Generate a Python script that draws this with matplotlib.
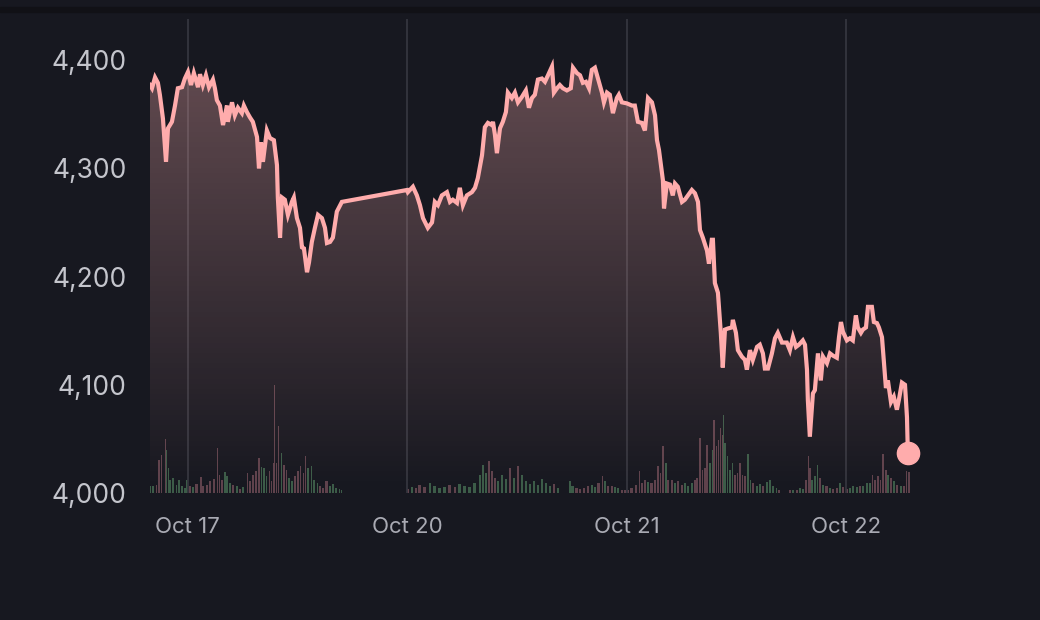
import numpy as np
import matplotlib
matplotlib.use("Agg")
import matplotlib.pyplot as plt
from matplotlib.patches import Rectangle
from matplotlib.ticker import FuncFormatter

# trading-day axis: 0 = Oct 17, 1 = Oct 20, 2 = Oct 21, 3 = Oct 22
day_ticks = [0, 1, 2, 3]
day_labels = ["Oct 17", "Oct 20", "Oct 21", "Oct 22"]
price_ticks = [4000, 4100, 4200, 4300, 4400]

oct17_t = [-0.173, -0.164, -0.150, -0.137, -0.128, -0.114, -0.100, -0.091, -0.073, -0.059,
           -0.046, -0.027, -0.014, 0.000, 0.014, 0.027, 0.046, 0.055, 0.068, 0.082,
           0.096, 0.114, 0.123, 0.132, 0.146, 0.160, 0.178, 0.182, 0.201, 0.214,
           0.228, 0.246, 0.255, 0.269, 0.283, 0.296, 0.315, 0.324, 0.333, 0.342,
           0.360, 0.374, 0.392, 0.406, 0.410, 0.420, 0.429, 0.442, 0.456, 0.474,
           0.483, 0.497, 0.511, 0.520, 0.529, 0.543, 0.552, 0.565, 0.579, 0.593,
           0.611, 0.625, 0.634, 0.648, 0.661, 0.679, 0.702]
oct17_p = [4377, 4374, 4384, 4379, 4368, 4346, 4306, 4337, 4343, 4358,
           4374, 4375, 4383, 4389, 4377, 4388, 4375, 4387, 4377, 4386,
           4375, 4382, 4374, 4363, 4358, 4340, 4358, 4343, 4361, 4349,
           4356, 4351, 4358, 4352, 4347, 4343, 4329, 4300, 4324, 4306,
           4335, 4328, 4326, 4303, 4273, 4236, 4273, 4271, 4257, 4269,
           4273, 4254, 4245, 4227, 4226, 4204, 4213, 4232, 4245, 4257,
           4254, 4245, 4231, 4232, 4236, 4260, 4269]

oct20_t = [0.999, 1.003, 1.026, 1.044, 1.058, 1.072, 1.094, 1.113, 1.126, 1.140,
           1.158, 1.181, 1.195, 1.208, 1.227, 1.240, 1.254, 1.272, 1.295, 1.309,
           1.322, 1.341, 1.354, 1.368, 1.386, 1.391, 1.400, 1.409, 1.423, 1.436,
           1.450, 1.459, 1.477, 1.491, 1.505, 1.523, 1.541, 1.555, 1.569, 1.582,
           1.596, 1.614, 1.628, 1.642, 1.660, 1.669, 1.683, 1.696, 1.710, 1.728,
           1.746, 1.756, 1.774, 1.788, 1.801, 1.815, 1.829, 1.842, 1.856, 1.870,
           1.888, 1.897, 1.911, 1.924, 1.938, 1.956, 1.965, 1.979]
oct20_p = [4280, 4278, 4283, 4275, 4266, 4254, 4245, 4250, 4269, 4266,
           4275, 4278, 4269, 4271, 4268, 4282, 4266, 4275, 4278, 4282,
           4291, 4312, 4338, 4342, 4340, 4343, 4331, 4314, 4337, 4343,
           4352, 4370, 4365, 4370, 4361, 4366, 4372, 4356, 4365, 4368,
           4382, 4383, 4380, 4386, 4394, 4370, 4374, 4377, 4374, 4372,
           4374, 4393, 4388, 4386, 4379, 4380, 4374, 4391, 4393, 4383,
           4370, 4361, 4370, 4368, 4351, 4365, 4368, 4361]

oct21_t = [2.002, 2.025, 2.038, 2.052, 2.070, 2.084, 2.098, 2.116, 2.130, 2.139,
           2.148, 2.166, 2.171, 2.184, 2.198, 2.211, 2.221, 2.234, 2.253, 2.266,
           2.280, 2.298, 2.312, 2.326, 2.335, 2.348, 2.367, 2.376, 2.389, 2.394,
           2.403, 2.417, 2.430, 2.439, 2.449, 2.462, 2.481, 2.485, 2.499, 2.508,
           2.526, 2.540, 2.549, 2.563, 2.576, 2.595, 2.608, 2.622, 2.631, 2.645,
           2.663, 2.677, 2.690, 2.709, 2.731, 2.745, 2.759, 2.773, 2.786, 2.804,
           2.814, 2.823, 2.827, 2.836, 2.850, 2.859, 2.873, 2.886, 2.896, 2.914,
           2.928, 2.941, 2.959, 2.969, 2.978, 2.987]
oct21_p = [4360, 4358, 4358, 4343, 4342, 4335, 4365, 4361, 4349, 4326,
           4317, 4289, 4263, 4286, 4285, 4275, 4286, 4283, 4269, 4271,
           4275, 4280, 4277, 4269, 4243, 4236, 4224, 4212, 4234, 4234,
           4194, 4185, 4148, 4116, 4151, 4152, 4153, 4160, 4148, 4132,
           4126, 4123, 4114, 4132, 4123, 4135, 4137, 4129, 4115, 4115,
           4129, 4143, 4148, 4139, 4139, 4132, 4144, 4135, 4137, 4141,
           4137, 4114, 4086, 4052, 4092, 4095, 4129, 4104, 4126, 4120,
           4129, 4127, 4125, 4144, 4158, 4149]

oct22_t = [3.005, 3.019, 3.032, 3.046, 3.055, 3.069, 3.078, 3.092, 3.101, 3.119,
           3.128, 3.142, 3.151, 3.165, 3.174, 3.183, 3.192, 3.206, 3.219, 3.233,
           3.242, 3.256, 3.270, 3.279, 3.283]
oct22_p = [4141, 4143, 4141, 4164, 4153, 4148, 4151, 4153, 4172, 4172,
           4158, 4157, 4153, 4144, 4121, 4097, 4104, 4084, 4089, 4077,
           4086, 4102, 4100, 4070, 4037]

# volume per session (arbitrary units)
vol1_t = [-0.173, -0.158, -0.143, -0.131, -0.120, -0.109, -0.102, -0.097, -0.090, -0.082,
          -0.067, -0.052, -0.040, -0.029, -0.014, -0.003, 0.009, 0.024, 0.040, 0.059,
          0.070, 0.085, 0.100, 0.119, 0.134, 0.143, 0.154, 0.169, 0.179, 0.192,
          0.207, 0.222, 0.237, 0.252, 0.271, 0.283, 0.295, 0.310, 0.325, 0.336,
          0.347, 0.359, 0.371, 0.382, 0.389, 0.395, 0.404, 0.413, 0.420, 0.427,
          0.438, 0.450, 0.461, 0.473, 0.488, 0.500, 0.514, 0.526, 0.537, 0.549,
          0.564, 0.575, 0.590, 0.602, 0.617, 0.632, 0.648, 0.660, 0.675, 0.690, 0.701]
vol1_v = [7, 7, 8, 33, 38, 18, 54, 43, 25, 13,
          15, 8, 13, 7, 5, 13, 7, 6, 9, 16,
          7, 8, 12, 14, 45, 18, 13, 21, 17, 10,
          8, 7, 4, 6, 20, 12, 18, 22, 35, 26,
          25, 17, 22, 12, 30, 108, 30, 67, 50, 40,
          28, 23, 15, 12, 17, 22, 27, 20, 37, 25,
          27, 13, 10, 7, 5, 12, 7, 9, 5, 4, 3]

vol2_t = [1.003, 1.021, 1.040, 1.058, 1.081, 1.104, 1.126, 1.149, 1.172, 1.195,
          1.218, 1.240, 1.263, 1.286, 1.309, 1.332, 1.345, 1.359, 1.373, 1.386,
          1.400, 1.414, 1.432, 1.450, 1.468, 1.487, 1.505, 1.523, 1.541, 1.560,
          1.578, 1.596, 1.614, 1.632, 1.651, 1.669, 1.687]
vol2_v = [4, 6, 5, 8, 6, 10, 7, 5, 6, 8,
          6, 9, 7, 6, 10, 18, 28, 20, 32, 22,
          15, 12, 18, 14, 25, 15, 27, 18, 12, 9,
          12, 8, 14, 10, 7, 9, 5]

vol3_t = [1.742, 1.754, 1.772, 1.788, 1.806, 1.825, 1.841, 1.856, 1.871, 1.891,
          1.902, 1.917, 1.932, 1.947, 1.962, 1.978, 1.993, 2.008, 2.023, 2.043,
          2.058, 2.069, 2.084, 2.099, 2.114, 2.130, 2.142, 2.155, 2.167, 2.180,
          2.190, 2.206, 2.221, 2.236, 2.251, 2.266, 2.281, 2.297, 2.312, 2.322,
          2.335, 2.347, 2.357, 2.368, 2.380, 2.393, 2.400, 2.411, 2.421, 2.430,
          2.436, 2.443, 2.450, 2.461, 2.472, 2.484, 2.494, 2.507, 2.517, 2.529,
          2.540, 2.555, 2.566, 2.578, 2.593, 2.608, 2.623, 2.639, 2.654, 2.669,
          2.684, 2.696]
vol3_v = [12, 7, 5, 4, 5, 7, 8, 6, 10, 17,
          12, 7, 7, 6, 5, 3, 3, 3, 5, 8,
          22, 10, 13, 11, 10, 13, 27, 20, 47, 30,
          13, 13, 10, 12, 8, 10, 7, 10, 13, 15,
          55, 23, 25, 48, 30, 43, 73, 47, 53, 65,
          58, 78, 50, 37, 23, 30, 18, 20, 30, 18,
          17, 39, 13, 10, 7, 9, 7, 11, 13, 7,
          5, 3]

vol4_t = [2.745, 2.760, 2.776, 2.791, 2.806, 2.818, 2.829, 2.836, 2.847, 2.859,
          2.871, 2.882, 2.897, 2.912, 2.928, 2.943, 2.958, 2.973, 2.988, 3.004,
          3.019, 3.034, 3.049, 3.064, 3.079, 3.095, 3.110, 3.122, 3.132, 3.147,
          3.159, 3.170, 3.183, 3.193, 3.206, 3.219, 3.234, 3.250, 3.265, 3.278, 3.288]
vol4_v = [3, 3, 3, 5, 4, 13, 37, 25, 13, 17,
          28, 15, 8, 7, 5, 4, 5, 10, 6, 4,
          5, 7, 6, 7, 7, 10, 10, 18, 13, 17,
          13, 39, 23, 18, 15, 12, 8, 7, 7, 22, 21]

BG = "#171820"
LINE = "#ffacac"
GRID = "#34353e"
UP = "#4c7a5a"
DOWN = "#7e5460"

plt.rcParams["font.family"] = ["Inter", "DejaVu Sans"]

t = np.array(oct17_t + oct20_t + oct21_t + oct22_t)
p = np.array(oct17_p + oct20_p + oct21_p + oct22_p)

fig = plt.figure(figsize=(10.4, 6.2), dpi=100, facecolor=BG)
fig.patches.append(Rectangle((0, 608 / 620), 1, 5 / 620, transform=fig.transFigure,
                             color="#111116", zorder=0))

ax = fig.add_axes([150 / 1040, 127 / 620, 780 / 1040, 474 / 620])
ax.set_facecolor(BG)
xmin, xmax = -0.173, 3.384
ymin, ymax = 4000, 4438
ax.set_xlim(xmin, xmax)
ax.set_ylim(ymin, ymax)

# volume on its own scale, behind the price
axv = ax.twinx()
axv.set_ylim(0, 474)
axv.set_axis_off()
for vt, vv in [(vol1_t, vol1_v), (vol2_t, vol2_v), (vol3_t, vol3_v), (vol4_t, vol4_v)]:
    vt = np.array(vt)
    vv = np.array(vv)
    gaps = np.diff(vt)
    w = np.append(gaps, gaps[-1]) * 0.6
    prev = np.interp(vt - 0.006, t, p)
    now = np.interp(vt, t, p)
    cols = [UP if a >= b else DOWN for a, b in zip(now, prev)]
    axv.bar(vt, vv, width=w, color=cols, alpha=0.7, align="center", linewidth=0)

ax.set_zorder(axv.get_zorder() + 1)
ax.patch.set_visible(False)
axv.patch.set_facecolor(BG)

for d in day_ticks:
    ax.axvline(d, color=GRID, lw=1.3, zorder=1)

# gradient area under the line
poly = ax.fill_between(t, p, ymin, color="none", lw=0)
grad = np.zeros((200, 2, 4))
grad[:, :, 0] = 1.0
grad[:, :, 1] = 0.70
grad[:, :, 2] = 0.70
grad[:, :, 3] = np.linspace(0.36, 0.0, 200)[:, None]
img = ax.imshow(grad, extent=(xmin, xmax, ymin, ymax), aspect="auto", origin="upper",
                zorder=2)
img.set_clip_path(poly.get_paths()[0], transform=ax.transData)

ax.plot(t, p, color=LINE, lw=3.0, zorder=3, solid_joinstyle="miter")
ax.plot(t[-1], p[-1], "o", ms=16, color=LINE, zorder=4, clip_on=False)

ax.set_xticks(day_ticks)
ax.set_xticklabels(day_labels)
ax.set_yticks(price_ticks)
ax.yaxis.set_major_formatter(FuncFormatter(lambda v, _: f"{v:,.0f}"))
ax.tick_params(axis="x", length=0, pad=17, labelsize=16, labelcolor="#a9aab3")
ax.tick_params(axis="y", length=0, pad=17, labelsize=19, labelcolor="#c4c5cc")
for s in ax.spines.values():
    s.set_visible(False)

fig.savefig("out.png", dpi=100, facecolor=BG)
